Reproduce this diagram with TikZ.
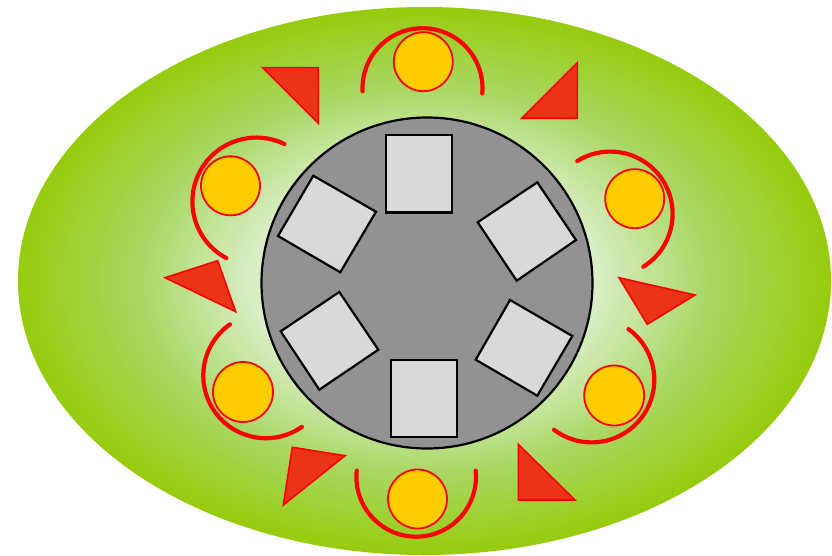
\documentclass[tikz,border=0pt]{standalone}
\definecolor{gc0}{HTML}{EEF7E4}
\definecolor{gc1}{HTML}{D9EEC5}
\definecolor{gc2}{HTML}{AAD865}
\definecolor{gc3}{HTML}{97CB0E}
\definecolor{trifill}{HTML}{EB3318}
\definecolor{sunfill}{HTML}{FFCC00}
\definecolor{hubfill}{HTML}{929292}
\definecolor{boxfill}{HTML}{D9D9D9}
\tikzset{
  tri/.style={fill=trifill, draw=red, line width=1.6pt, line join=miter},
  sun/.style={fill=sunfill, draw=red, line width=1.8pt},
  swing/.style={draw=red, line width=4.2pt, line cap=round},
  tile/.style={fill=boxfill, draw=black, line width=2.2pt, line join=miter},
}
\begin{document}
\begin{tikzpicture}[x=1pt,y=1pt,yscale=-1]
\useasboundingbox (0,0) rectangle (832,556);
\fill[white] (0,0) rectangle (832,556);
% field (radial gradient by concentric ellipses)
\coordinate (fc) at (424.5,281);
\foreach \i in {0,...,29}{
  \pgfmathsetmacro\s{1-\i/100}
  \pgfmathsetmacro\p{\i/30*100}
  \fill[gc2!\p!gc3] (fc) ellipse [x radius={406.5*\s}, y radius={274*\s}];
}
\foreach \i in {0,...,26}{
  \pgfmathsetmacro\s{0.70-\i/100}
  \pgfmathsetmacro\p{\i/27*100}
  \fill[gc1!\p!gc2] (fc) ellipse [x radius={406.5*\s}, y radius={274*\s}];
}
\foreach \i in {0,...,40}{
  \pgfmathsetmacro\s{0.43-\i/100}
  \pgfmathsetmacro\p{\i/41*100}
  \fill[gc0!\p!gc1] (fc) ellipse [x radius={406.5*\s}, y radius={274*\s}];
}
% hub
\draw[fill=hubfill, line width=2.2pt] (427,283) circle [radius=165.5];
% tiles
\draw[tile] (385.7,135) rectangle (451.7,212.5);
\draw[tile] (391,360) rectangle (457,436.7);
\draw[tile] (313.3,175.7) -- (376,211.7) -- (340.3,272.3) -- (278,236) -- cycle;
\draw[tile] (537.3,182.3) -- (576,240) -- (516.7,280.7) -- (477.7,222.3) -- cycle;
\draw[tile] (339.3,292) -- (378.3,349.7) -- (319.3,389.7) -- (280.7,331.3) -- cycle;
\draw[tile] (510,300) -- (572.3,336) -- (537.3,395.7) -- (475.7,359.7) -- cycle;
% triangles
\draw[tri] (262.7,67.7) -- (318.3,67.7) -- (318.3,123.3) -- cycle;
\draw[tri] (577.3,62.7) -- (577.3,118.3) -- (521.7,118.3) -- cycle;
\draw[tri] (165,277.7) -- (217.7,260.7) -- (235.7,311.7) -- cycle;
\draw[tri] (619,277.7) -- (695,295) -- (647.3,324.3) -- cycle;
\draw[tri] (292.3,447.3) -- (345,455.7) -- (283.3,505) -- cycle;
\draw[tri] (518.3,444.3) -- (518.3,500) -- (575,500) -- cycle;
% suns
\draw[sun] (423.3,61.7) circle [radius=29.5];
\draw[sun] (230.5,185.8) circle [radius=29.5];
\draw[sun] (634.7,198.7) circle [radius=29.5];
\draw[sun] (243,392) circle [radius=30];
\draw[sun] (614.2,395.5) circle [radius=30];
\draw[sun] (417.5,499) circle [radius=29.5];
% swings
\draw[swing] (422.5,88.2) ++(177:60) arc [start angle=177, end angle=365, radius=60];
\draw[swing] (256.4,201.6) ++(-64:64) arc [start angle=-64, end angle=-242, radius=64];
\draw[swing] (610.3,213.9) ++(-122:62.3) arc [start angle=-122, end angle=58, radius=62.3];
\draw[swing] (265.9,375.6) ++(235:62.6) arc [start angle=235, end angle=55, radius=62.6];
\draw[swing] (591.7,379.8) ++(-54:62.6) arc [start angle=-54, end angle=127, radius=62.6];
\draw[swing] (416.2,476.9) ++(186:59.8) arc [start angle=186, end angle=-6, radius=59.8];
\end{tikzpicture}
\end{document}
